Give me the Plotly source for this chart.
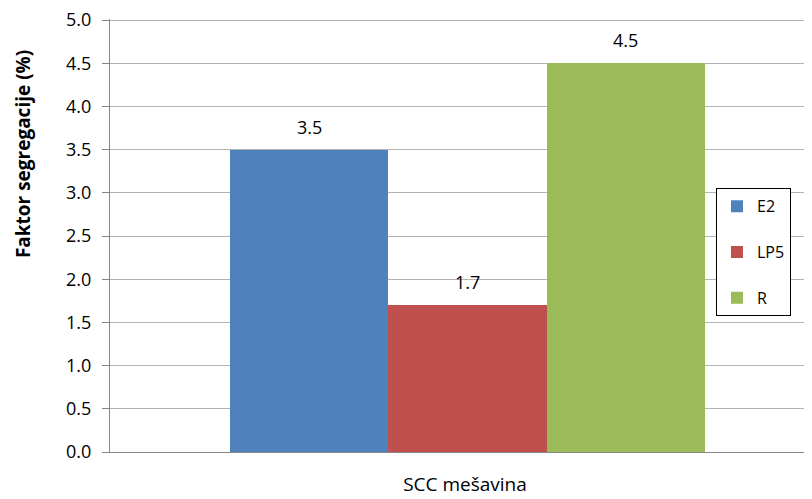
import plotly.graph_objects as go

series = ["E2", "LP5", "R"]
values = [3.5, 1.7, 4.5]
colors = ["#4F81BD", "#C0504D", "#9BBB59"]
category = "SCC mešavina"
y_title = "Faktor segregacije (%)"
y_ticks = [0.0, 0.5, 1.0, 1.5, 2.0, 2.5, 3.0, 3.5, 4.0, 4.5, 5.0]

FONT = "'Open Sans', sans-serif"

fig = go.Figure()
for name, v, c in zip(series, values, colors):
    fig.add_trace(go.Bar(
        x=[name], y=[v], name=name, marker=dict(color=c, line=dict(width=0)),
        legendgroup=name, width=1.0,
    ))
    fig.add_annotation(
        x=name, y=v, text=f"{v:.1f}", showarrow=False,
        yanchor="bottom", yshift=9,
        font=dict(size=18, color="#000000", family=FONT),
    )

# y-axis title (placed like the original, above the plot centre)
fig.add_annotation(
    xref="paper", yref="paper", x=-0.1225, y=0.688,
    text=f"<b>{y_title}</b>", textangle=-90, showarrow=False,
    xanchor="center", yanchor="middle",
    font=dict(size=19, family=FONT, color="#000000"),
)

fig.update_layout(
    width=812, height=499,
    margin=dict(l=102, r=0, t=11, b=55),
    paper_bgcolor="white", plot_bgcolor="white",
    barmode="overlay", bargap=0,
    font=dict(family=FONT, size=18, color="#000000"),
    showlegend=True,
    legend=dict(
        x=0.8535, y=0.609, xanchor="left", yanchor="top",
        bordercolor="#000000", borderwidth=1, bgcolor="white",
        font=dict(size=16, family=FONT),
        tracegroupgap=22, itemwidth=30,
    ),
    xaxis=dict(
        type="category", categoryorder="array", categoryarray=series,
        range=[-1.258, 3.226],
        showticklabels=False,
        showgrid=False, zeroline=False, showline=True, linecolor="#868686",
        linewidth=1, ticks="",
        title=dict(text=category, font=dict(size=19, family=FONT), standoff=25),
    ),
    yaxis=dict(
        range=[0, 5.012], tickmode="array", tickvals=y_ticks,
        ticktext=[f"{t:.1f}" for t in y_ticks],
        showgrid=True, gridcolor="#B3B3B3", gridwidth=1,
        zeroline=False, showline=True, linecolor="#868686", linewidth=1,
        ticks="outside", ticklen=7, tickcolor="#868686", ticklabelstandoff=7,
        ticklabeloverflow="allow",
        tickfont=dict(size=18, family=FONT), automargin=False,
    ),
)

fig.write_html("out.html")
